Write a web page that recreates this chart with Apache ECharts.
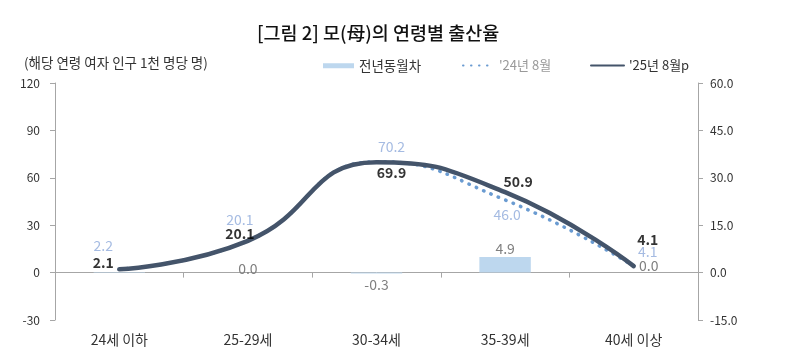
<!DOCTYPE html>
<html><head><meta charset="utf-8">
<script src="https://cdn.jsdelivr.net/npm/echarts@6/dist/echarts.min.js"></script>
<style>html,body{margin:0;padding:0;background:#fff}#c{width:800px;height:355px}</style>
</head><body><div id="c"></div>
<script>
const categories = ['24세 이하', '25-29세', '30-34세', '35-39세', '40세 이상'];
const diffValues = [-0.1, 0.0, -0.3, 4.9, 0.0];   // 전년동월차 (right axis)
const prev24 = [2.2, 20.1, 70.2, 46.0, 4.1];       // '24년 8월
const curr25 = [2.1, 20.1, 69.9, 50.9, 4.1];       // '25년 8월p
const leftTicks = {min: -30, max: 120, interval: 30};
const rightTicks = {min: -15, max: 60, interval: 15};

const FONT = '"Noto Sans CJK KR", "Noto Sans", sans-serif';
// label offsets (styling only)
const currOff = [[-16,-7],[-8,-7.5],[15,10.5],[13,-10],[14,-26]];
const prevOff = [[-16,-23],[-8,-21.5],[15,-15],[2,14.5],[14,-14]];
const diffOff = [null,[0,-4],[0,12],[0,-16],[15,-6.6]];

const fmt1 = p => Number(p.value).toFixed(1);
const labelSeries = (name, vals, offs, style) => ({
  name: name + '_label', type: 'scatter', yAxisIndex: 0, xAxisIndex: 0,
  symbolSize: 1, itemStyle: {color: 'rgba(0,0,0,0)'}, silent: true,
  data: vals.map((v, i) => ({value: v, label: {offset: offs[i]}})),
  label: Object.assign({show: true, position: 'inside', fontSize: 14, fontFamily: FONT, formatter: fmt1}, style),
  z: 5
});

const chart = echarts.init(document.getElementById('c'), null, {renderer: 'canvas'});
const option = {
  animation: false,
  textStyle: {fontFamily: FONT},
  title: {
    text: '[그림 2] 모(母)의 연령별 출산율', left: 252, top: 19,
    textStyle: {fontFamily: FONT, fontSize: 18.5, fontWeight: 500, color: '#111'}
  },
  graphic: [{
    type: 'text', left: 24, top: 56,
    style: {text: '(해당 연령 여자 인구 1천 명당 명)', fontFamily: FONT, fontSize: 13.5, fill: '#333'}
  }],
  legend: [
    {left: 318, top: 54, itemWidth: 31, itemHeight: 5, itemGap: 0,
     data: [{name: '전년동월차', icon: 'rect'}],
     textStyle: {fontFamily: FONT, fontSize: 13.5, color: '#333'}},
    {left: 457, top: 54, itemWidth: 31, itemHeight: 8,
     data: [{name: "'24년 8월", itemStyle: {opacity: 0}}],
     textStyle: {fontFamily: FONT, fontSize: 13, color: '#999'}},
    {left: 585, top: 54, itemWidth: 33, itemHeight: 8,
     data: [{name: "'25년 8월p", itemStyle: {opacity: 0}}],
     textStyle: {fontFamily: FONT, fontSize: 13, color: '#333'}}
  ],
  grid: {left: 55, right: 102, top: 83, bottom: 35, containLabel: false, outerBoundsMode: 'none'},
  xAxis: [
    {type: 'category', data: categories, boundaryGap: true,
     axisLine: {onZero: true, lineStyle: {color: '#a6a6a6', width: 1}},
     axisTick: {show: true, inside: false, length: 5, lineStyle: {color: '#a6a6a6'}},
     axisLabel: {show: false},
     splitLine: {show: false}},
    {type: 'category', data: categories, boundaryGap: true, position: 'bottom',
     axisLine: {show: false, onZero: false}, axisTick: {show: false},
     axisLabel: {show: true, margin: 13, fontSize: 14, color: '#333', fontFamily: FONT},
     splitLine: {show: false}}
  ],
  yAxis: [
    {type: 'value', min: leftTicks.min, max: leftTicks.max, interval: leftTicks.interval,
     axisLine: {show: true, lineStyle: {color: '#a6a6a6'}},
     axisTick: {show: true, length: 5, lineStyle: {color: '#a6a6a6'}},
     axisLabel: {fontSize: 12, color: '#333', margin: 15, fontFamily: FONT},
     splitLine: {show: false}},
    {type: 'value', min: rightTicks.min, max: rightTicks.max, interval: rightTicks.interval,
     position: 'right',
     axisLine: {show: true, lineStyle: {color: '#a6a6a6'}},
     axisTick: {show: true, length: 5, lineStyle: {color: '#a6a6a6'}},
     axisLabel: {fontSize: 12, color: '#333', margin: 12, fontFamily: FONT,
       formatter: v => v.toFixed(1)},
     splitLine: {show: false}}
  ],
  series: [
    {
      name: '전년동월차', type: 'bar', yAxisIndex: 1, xAxisIndex: 0, barWidth: '40%',
      itemStyle: {color: '#bdd7ee'},
      data: diffValues.map((v, i) => ({
        value: v,
        label: diffOff[i] ? {show: true, position: 'inside', offset: diffOff[i]} : {show: false}
      })),
      label: {color: '#7f7f7f', fontSize: 14, fontFamily: FONT, formatter: fmt1},
      z: 1
    },
    {
      name: "'24년 8월", type: 'line', yAxisIndex: 0, xAxisIndex: 0, smooth: 0.5,
      symbol: 'none',
      itemStyle: {color: '#6a9bd1'},
      lineStyle: {color: '#6a9bd1', width: 3.5, type: [0.5, 7.5], cap: 'round'},
      data: prev24,
      z: 2
    },
    {
      name: "'25년 8월p", type: 'line', yAxisIndex: 0, xAxisIndex: 0, smooth: 0.5,
      symbol: 'none',
      itemStyle: {color: '#44546a'},
      lineStyle: {color: '#44546a', width: 4.5, cap: 'round'},
      data: curr25,
      z: 3
    },
    labelSeries("'24년 8월", prev24, prevOff, {color: '#8eaadb'}),
    labelSeries("'25년 8월p", curr25, currOff, {color: '#000', fontWeight: 'bold'})
  ]
};
chart.setOption(option);
</script>
</body></html>
